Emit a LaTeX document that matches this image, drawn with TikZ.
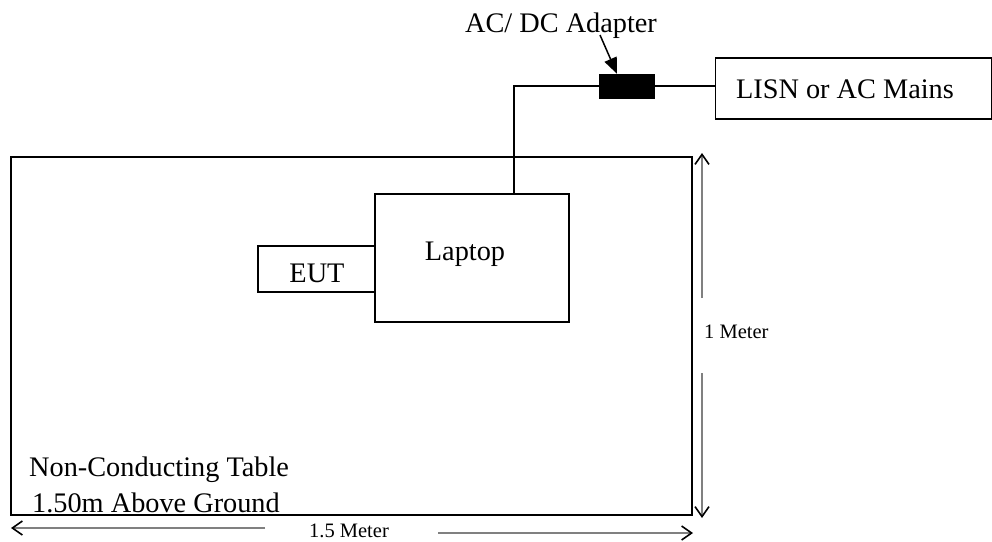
\documentclass[tikz,border=0pt]{standalone}
\usepackage{fontspec}
\setmainfont{Liberation Serif}
\usetikzlibrary{arrows.meta}
\begin{document}
\begin{tikzpicture}[x=1pt,y=-1pt,
  box/.style={draw,line width=1.5pt,minimum width=#1,inner sep=0pt},
  wire/.style={line width=1.5pt},
  bigtxt/.style={font=\fontsize{28.3}{32}\selectfont,inner sep=0pt,anchor=base},
  smalltxt/.style={font=\fontsize{20.5}{24}\selectfont,inner sep=0pt,anchor=base},
  dim/.style={draw=black!50,line width=1.1pt,-{Straight Barb[length=10pt,width=14pt,line width=1.6pt,black]}}]
\useasboundingbox (0,0) rectangle (992,541);
% boxes
\node[box=681pt,minimum height=358pt] (table) at (351.5,336) {};
\node[box=194pt,minimum height=128pt] (laptop) at (472,258) {};
\node[box=117pt,minimum height=46pt] (eut) at (316.5,269) {};
\node[draw,fill=black,minimum width=55pt,minimum height=24pt,inner sep=0pt] (adapter) at (626.5,86) {};
\node[box=276pt,minimum height=61pt] (lisn) at (853.5,88.5) {};
% texts
\node[bigtxt] (laptoptxt) at (465,260) {Laptop};
\node[bigtxt] (euttxt) at (317,282) {EUT};
\node[bigtxt] (lisntxt) at (845,98) {LISN or AC Mains};
\node[bigtxt] (adtxt) at (561,32) {AC/ DC Adapter};
\node[bigtxt,anchor=base west] (tab1) at (29,476) {Non-Conducting Table};
\node[bigtxt,anchor=base west] (tab2) at (32,512) {1.50m Above Ground};
\node[smalltxt,anchor=base west] (onem) at (704,338) {1 Meter};
\node[smalltxt] (onefive) at (349,537) {1.5 Meter};
% cables
\coordinate (cab) at (514,86);
\draw[wire] (cab |- laptop.north) |- (adapter.west);
\draw[wire] (adapter.east) -- (adapter.east -| lisn.west);
% adapter pointer
\coordinate (ptr) at (600,35);
\draw[wire,-{Triangle[length=16pt,width=13pt]}] (ptr) -- (adapter.north -| 617,0);
% dimensions
\coordinate (v1) at (702,153);
\coordinate (v2) at (702,298);
\coordinate (v3) at (702,373);
\coordinate (v4) at (702,518);
\draw[dim] (v2) -- (v1);
\draw[dim] (v3) -- (v4);
\coordinate (h1) at (11,528);
\coordinate (h2) at (265,528);
\coordinate (h3) at (438,533);
\coordinate (h4) at (693,533);
\draw[dim] (h2) -- (h1);
\draw[dim] (h3) -- (h4);
\end{tikzpicture}
\end{document}
